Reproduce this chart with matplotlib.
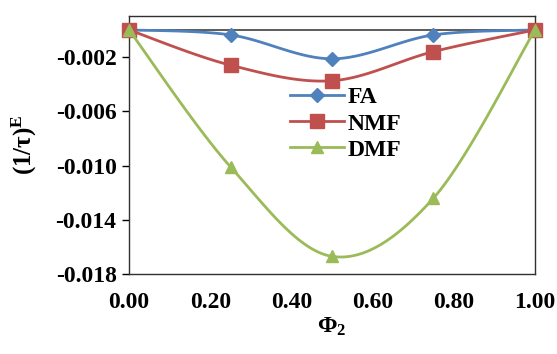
import numpy as np
import matplotlib
matplotlib.use("Agg")
import matplotlib.pyplot as plt

# ---- data ----
phi2 = [0.00, 0.25, 0.50, 0.75, 1.00]
fa = [0.0, -0.00037, -0.00213, -0.00037, 0.0]
nmf = [0.0, -0.0026, -0.00375, -0.0016, 0.0]
dmf = [0.0, -0.0101, -0.0167, -0.0124, 0.0]

series_names = ["FA", "NMF", "DMF"]
series_colors = ["#4F81BD", "#C0504D", "#9BBB59"]
series_markers = ["D", "s", "^"]
series_msize = [7, 9.5, 8.5]

yticks = [-0.018, -0.014, -0.010, -0.006, -0.002]
xticks = [0.0, 0.2, 0.4, 0.6, 0.8, 1.0]

plt.rcParams["font.family"] = ["Liberation Serif", "DejaVu Serif"]
plt.rcParams["font.weight"] = "bold"
plt.rcParams["mathtext.fontset"] = "custom"
plt.rcParams["mathtext.rm"] = "Liberation Serif:bold"
plt.rcParams["mathtext.it"] = "Liberation Serif:bold"
plt.rcParams["mathtext.bf"] = "Liberation Serif:bold"


def smooth(x, y, n=30):
    # Excel-style smoothed line: cubic Bezier through the points
    x = np.asarray(x, float)
    y = np.asarray(y, float)
    px, py = [x[0]], [y[0]]
    t = np.linspace(0, 1, n + 1)[1:]
    for i in range(len(x) - 1):
        i0, i3 = max(i - 1, 0), min(i + 2, len(x) - 1)
        c1x = x[i] + (x[i + 1] - x[i0]) / 6
        c1y = y[i] + (y[i + 1] - y[i0]) / 6
        c2x = x[i + 1] - (x[i3] - x[i]) / 6
        c2y = y[i + 1] - (y[i3] - y[i]) / 6
        bx = ((1 - t) ** 3 * x[i] + 3 * (1 - t) ** 2 * t * c1x
              + 3 * (1 - t) * t ** 2 * c2x + t ** 3 * x[i + 1])
        by = ((1 - t) ** 3 * y[i] + 3 * (1 - t) ** 2 * t * c1y
              + 3 * (1 - t) * t ** 2 * c2y + t ** 3 * y[i + 1])
        px.extend(bx)
        py.extend(by)
    marks = [k * n for k in range(len(x))]
    return np.array(px), np.array(py), marks


fig = plt.figure(figsize=(5.57, 3.54), dpi=100)
ax = fig.add_axes([0.2316, 0.226, 0.7289, 0.729])

ax.axhline(0, color="#404040", lw=1.2, zorder=1)

for vals, name, col, mk, ms in zip([fa, nmf, dmf], series_names,
                                   series_colors, series_markers,
                                   series_msize):
    sx, sy, marks = smooth(phi2, vals)
    ax.plot(sx, sy, color=col, lw=2.0, marker=mk, markersize=ms,
            markevery=marks, label=name, zorder=3, clip_on=False)

ax.set_xlim(0, 1)
ax.set_ylim(-0.018, 0.00103)
ax.set_yticks(yticks)
ax.set_yticklabels([f"{v:.3f}" for v in yticks])
ax.set_xticks(xticks)
ax.set_xticklabels([f"{v:.2f}" for v in xticks])
ax.tick_params(axis="y", direction="out", length=5, width=1,
               labelsize=17, pad=4)
ax.tick_params(axis="x", length=0, labelsize=17, pad=13)
for s in ax.spines.values():
    s.set_linewidth(1.0)
    s.set_color("#303030")

ax.set_xlabel(r"$\Phi_2$", fontsize=17, labelpad=2)
ax.set_ylabel(r"$(1/\tau)^E$", fontsize=18, labelpad=12)

ax.legend(loc="upper left", bbox_to_anchor=(0.52, 0.755),
          bbox_transform=fig.transFigure, frameon=False, fontsize=17,
          handlelength=2.3, handletextpad=0.15, labelspacing=0.2,
          borderaxespad=0, borderpad=0)

fig.savefig("out.png", dpi=100)
